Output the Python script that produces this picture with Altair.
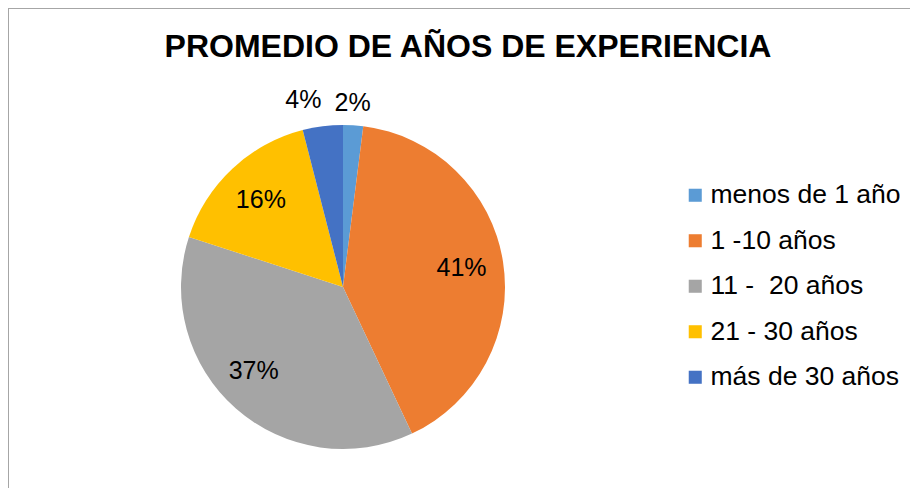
import altair as alt
import pandas as pd

title_text = "PROMEDIO DE AÑOS DE EXPERIENCIA"
categories = ["menos de 1 año", "1 -10 años", "11 -\u00a0 20 años", "21 - 30 años", "más de 30 años"]
values = [2, 41, 37, 16, 4]
colors = ["#5B9BD5", "#ED7D31", "#A5A5A5", "#FFC000", "#4472C4"]

df = pd.DataFrame({
    "category": categories,
    "value": values,
    "idx": list(range(len(categories))),
})
df["label"] = [f"{v}%" for v in values]

FONT = "Liberation Sans"
CX, CY, R = 335, 279, 162

base = alt.Chart(df)

arcs = base.mark_arc(radius=R).encode(
    x=alt.value(CX),
    y=alt.value(CY),
    theta=alt.Theta("value:Q", stack=True),
    order=alt.Order("idx:Q"),
    color=alt.Color(
        "category:N",
        scale=alt.Scale(domain=categories, range=colors),
        sort=categories,
        title=None,
        legend=alt.Legend(
            orient="none",
            legendX=674,
            legendY=174,
            symbolType="square",
            symbolSize=170,
            symbolStrokeWidth=0,
            labelFont=FONT,
            labelFontSize=26.5,
            labelColor="#000000",
            labelOffset=2,
            rowPadding=18.5,
            labelLimit=400,
        ),
    ),
)


def label_layer(cats, radius, dx=0, dy=0):
    cond = " || ".join([f"datum.category === '{c}'" for c in cats])
    return base.transform_calculate(
        shown=f"({cond}) ? datum.label : ''"
    ).mark_text(
        radius=radius, dx=dx, dy=dy, font=FONT, fontSize=25, color="#000000",
        align="center", baseline="middle",
    ).encode(
        x=alt.value(CX),
        y=alt.value(CY),
        theta=alt.Theta("value:Q", stack=True),
        order=alt.Order("idx:Q"),
        text=alt.Text("shown:N"),
    )


lab_in = label_layer([categories[1], categories[3]], 120)
lab_37 = label_layer([categories[2]], 120, dx=-10, dy=-6)
lab_2 = label_layer([categories[0]], 184, dx=-2)
lab_4 = label_layer([categories[4]], 188, dx=-16)

one = alt.Data(values=[{}])
top_rule = alt.Chart(one).mark_rule(color="#A6A6A6", strokeWidth=1).encode(
    x=alt.value(0), x2=alt.value(902), y=alt.value(0.5)
)
left_rule = alt.Chart(one).mark_rule(color="#A6A6A6", strokeWidth=1).encode(
    x=alt.value(0.5), y=alt.value(0), y2=alt.value(485)
)
title = alt.Chart(one).mark_text(
    text=title_text, font=FONT, fontSize=32, fontWeight="bold", color="#000000",
    align="center", baseline="alphabetic",
).encode(x=alt.value(460), y=alt.value(49))

chart = alt.layer(
    top_rule, left_rule, title, arcs, lab_in, lab_37, lab_2, lab_4
).properties(
    width=902, height=480, padding=0, autosize=alt.AutoSizeParams(type="none")
).configure_view(strokeWidth=0)

chart.save("out.html", embed_options={"renderer": "svg", "actions": False})
